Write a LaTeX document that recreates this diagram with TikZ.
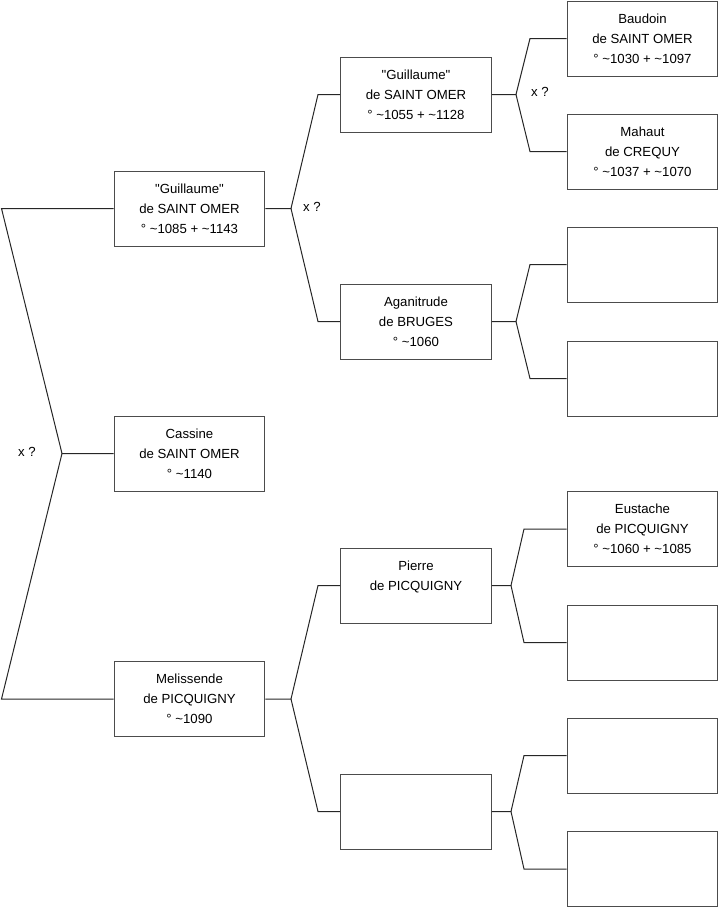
\documentclass[tikz,border=0pt]{standalone}
\usepackage{fontspec}
\newfontfamily\arialfont{Liberation Sans}
\usepackage{tikz}

\begin{document}
\begin{tikzpicture}[x=0.75pt,y=-0.75pt]
	\tikzstyle{every node}+=[font=\arialfont\fontsize{9.9}{15}\selectfont]
	\tikzstyle{person}=[draw=black!70,line width=0.75pt,minimum width=113pt,minimum height=56.25pt,inner sep=0pt,align=center]
	\tikzstyle{link}=[black!85,line width=0.75pt]
	\useasboundingbox (0,0) rectangle (719,908);
	% generation 1
	\node[person] (cas) at (189.5,453.5) {Cassine\\de SAINT OMER\\° \textasciitilde1140};
	% generation 2
	\node[person] (gui1) at (189.5,208.5) {"Guillaume"\\de SAINT OMER\\° \textasciitilde1085 + \textasciitilde1143};
	\node[person] (mel) at (189.5,699) {Melissende\\de PICQUIGNY\\° \textasciitilde1090};
	% generation 3
	\node[person] (gui2) at (416,94.5) {"Guillaume"\\de SAINT OMER\\° \textasciitilde1055 + \textasciitilde1128};
	\node[person] (aga) at (416,321.5) {Aganitrude\\de BRUGES\\° \textasciitilde1060};
	\node[person] (pie) at (416,585.5) {Pierre\\de PICQUIGNY\\\mbox{}};
	\node[person] (unk2) at (416,811.5) {};
	% generation 4
	\node[person] (bau) at (642.5,38.5) {Baudoin\\de SAINT OMER\\° \textasciitilde1030 + \textasciitilde1097};
	\node[person] (mah) at (642.5,151.5) {Mahaut\\de CREQUY\\° \textasciitilde1037 + \textasciitilde1070};
	\node[person] (unk3a) at (642.5,264.5) {};
	\node[person] (unk3b) at (642.5,378.5) {};
	\node[person] (eus) at (642.5,529) {Eustache\\de PICQUIGNY\\° \textasciitilde1060 + \textasciitilde1085};
	\node[person] (unk3c) at (642.5,642.5) {};
	\node[person] (unk3d) at (642.5,755.5) {};
	\node[person] (unk3e) at (642.5,869) {};
	% forks
	\coordinate (f0) at (62,453.5);
	\coordinate (f0a) at (1.5,208.5);
	\coordinate (f0b) at (1.5,699);
	\coordinate (f1) at (291,208.5);
	\coordinate (f1a) at (318,94.5);
	\coordinate (f1b) at (318,321.5);
	\coordinate (f2) at (291,699);
	\coordinate (f2a) at (318,585.5);
	\coordinate (f2b) at (318,811.5);
	\coordinate (f3) at (516,94.5);
	\coordinate (f3a) at (530,38.5);
	\coordinate (f3b) at (530,151.5);
	\coordinate (f4) at (516,321.5);
	\coordinate (f4a) at (530,264.5);
	\coordinate (f4b) at (530,378.5);
	\coordinate (f5) at (511,585.5);
	\coordinate (f5a) at (524,529);
	\coordinate (f5b) at (524,642.5);
	\coordinate (f6) at (511,811.5);
	\coordinate (f6a) at (524,755.5);
	\coordinate (f6b) at (524,869);
	% connectors
	\draw[link] (cas.west) -- (f0) -- (f0a) -- (gui1.west);
	\draw[link] (f0) -- (f0b) -- (mel.west);
	\draw[link] (gui1.east) -- (f1) -- (f1a) -- (gui2.west);
	\draw[link] (f1) -- (f1b) -- (aga.west);
	\draw[link] (mel.east) -- (f2) -- (f2a) -- (pie.west);
	\draw[link] (f2) -- (f2b) -- (unk2.west);
	\draw[link] (gui2.east) -- (f3) -- (f3a) -- (bau.west);
	\draw[link] (f3) -- (f3b) -- (mah.west);
	\draw[link] (aga.east) -- (f4) -- (f4a) -- (unk3a.west);
	\draw[link] (f4) -- (f4b) -- (unk3b.west);
	\draw[link] (pie.east) -- (f5) -- (f5a) -- (eus.west);
	\draw[link] (f5) -- (f5b) -- (unk3c.west);
	\draw[link] (unk2.east) -- (f6) -- (f6a) -- (unk3d.west);
	\draw[link] (f6) -- (f6b) -- (unk3e.west);
	% marriage marks
	\node (x0) at (27,452) {x ?};
	\node (x1) at (312,207) {x ?};
	\node (x2) at (540,92) {x ?};
\end{tikzpicture}
\end{document}
